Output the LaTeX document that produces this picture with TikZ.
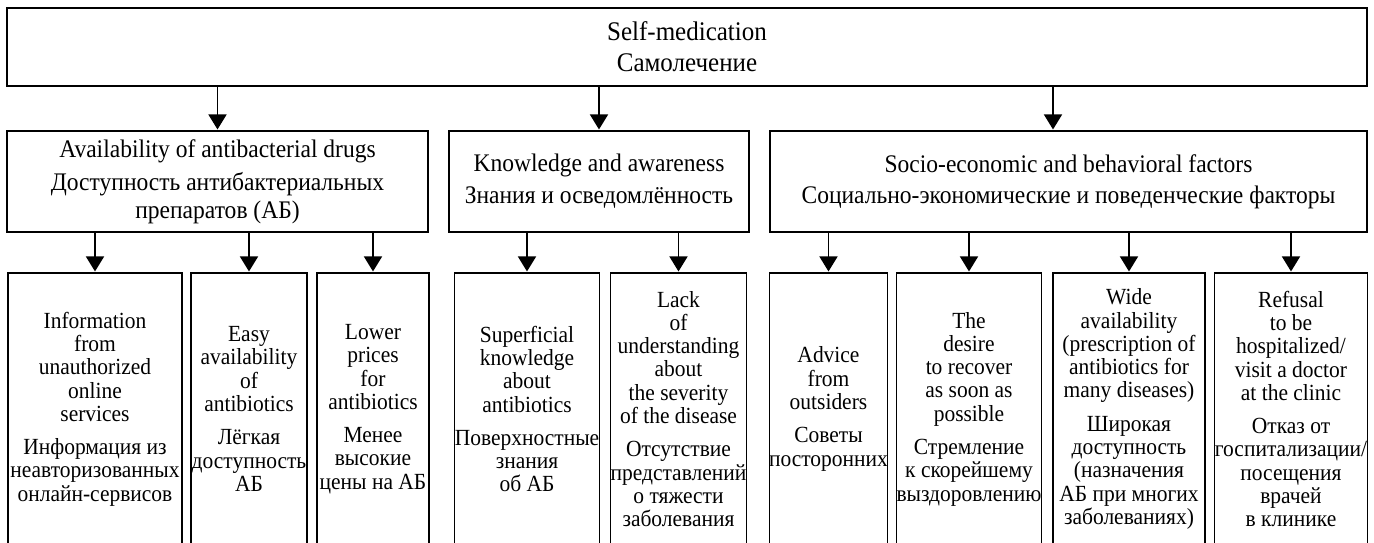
\documentclass[tikz,border=0pt]{standalone}
\usepackage{fontspec}
\setmainfont{Liberation Serif}[FakeStretch=0.93]
\usetikzlibrary{arrows.meta}
\begin{document}
\begin{tikzpicture}[x=1pt,y=-1pt,
  box/.style={draw=black, line width=1.1pt, inner sep=0pt, align=center},
  topbox/.style={box, font=\fontsize{26.9pt}{30pt}\selectfont},
  midbox/.style={box, minimum height=101pt, font=\fontsize{25.3pt}{28pt}\selectfont},
  lowbox/.style={box, minimum height=272pt, font=\fontsize{23.1pt}{23.3pt}\selectfont},
  arr/.style={line width=1.6pt, -{Triangle[length=15pt,width=18pt]}, shorten >=1pt}]
\useasboundingbox (0,0) rectangle (1374,542);
\fill[white] (0,0) rectangle (1374,542);
% top
\node[topbox, minimum width=1360pt, minimum height=78pt] (top) at (687,47)
  {Self-medication\\[1pt]Самолечение};
% middle level
\node[midbox, minimum width=421pt] (A) at (217.5,181.5)
  {Availability of antibacterial drugs\\[5pt]Доступность антибактериальных\\препаратов (АБ)};
\node[midbox, minimum width=300pt] (K) at (599,181.5)
  {\raisebox{-3pt}{Knowledge and awareness}\\[4pt]\raisebox{-3pt}{Знания и осведомлённость}};
\node[midbox, minimum width=597pt] (S) at (1068.5,181.5)
  {\raisebox{-3pt}{Socio-economic and behavioral factors}\\[3pt]\raisebox{-3pt}{Социально-экономические и поведенческие факторы}};
% bottom level
\node[lowbox, minimum width=174pt] (b1) at (95,409)
  {Information\\from\\unauthorized\\online\\services\\[10pt]Информация из\\неавторизованных\\онлайн-сервисов};
\node[lowbox, minimum width=116pt] (b2) at (249,409)
  {Easy\\availability\\of\\antibiotics\\[10pt]Лёгкая\\доступность\\АБ};
\node[lowbox, minimum width=112pt] (b3) at (373,409)
  {Lower\\prices\\for\\antibiotics\\[10pt]Менее\\высокие\\цены на АБ};
\node[lowbox, minimum width=144pt] (b4) at (527,409)
  {Superficial\\knowledge\\about\\antibiotics\\[10pt]Поверхностные\\знания\\об АБ};
\node[lowbox, minimum width=136pt] (b5) at (678.5,409)
  {Lack\\of\\understanding\\about\\the severity\\of the disease\\[10pt]Отсутствие\\представлений\\о тяжести\\заболевания};
\node[lowbox, minimum width=117pt] (b6) at (828.5,409)
  {Advice\\from\\outsiders\\[10pt]Советы\\посторонних};
\node[lowbox, minimum width=144pt] (b7) at (969,409)
  {The\\desire\\to recover\\as soon as\\possible\\[10pt]Стремление\\к скорейшему\\выздоровлению};
\node[lowbox, minimum width=152pt] (b8) at (1129,409)
  {Wide\\availability\\(prescription of\\antibiotics for\\many diseases)\\[10pt]Широкая\\доступность\\(назначения\\АБ при многих\\заболеваниях)};
\node[lowbox, minimum width=152pt] (b9) at (1291,409)
  {Refusal\\to be\\hospitalized/\\visit a doctor\\at the clinic\\[10pt]Отказ от\\госпитализации/\\посещения\\врачей\\в клинике};
% arrows
\coordinate (sx) at (1053,0);
\draw[arr] (top.south -| A.north) -- (A.north);
\draw[arr] (top.south -| K.north) -- (K.north);
\draw[arr] (top.south -| sx) -- (S.north -| sx);
\draw[arr] (A.south -| b1.north) -- (b1.north);
\draw[arr] (A.south -| b2.north) -- (b2.north);
\draw[arr] (A.south -| b3.north) -- (b3.north);
\draw[arr] (K.south -| b4.north) -- (b4.north);
\draw[arr] (K.south -| b5.north) -- (b5.north);
\draw[arr] (S.south -| b6.north) -- (b6.north);
\draw[arr] (S.south -| b7.north) -- (b7.north);
\draw[arr] (S.south -| b8.north) -- (b8.north);
\draw[arr] (S.south -| b9.north) -- (b9.north);
\end{tikzpicture}
\end{document}
